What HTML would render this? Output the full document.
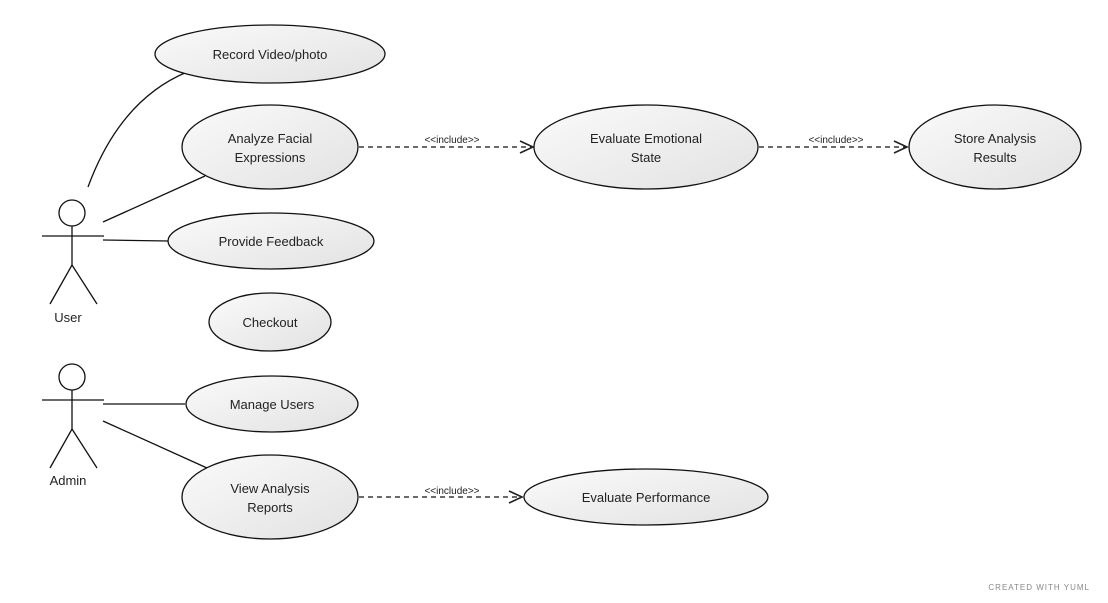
<!DOCTYPE html>
<html><head><style>body{margin:0;background:#fff}svg{display:block}text{font-family:"Liberation Sans",sans-serif;fill:#222}</style></head><body>
<svg width="1108" height="603" viewBox="0 0 1108 603" xmlns="http://www.w3.org/2000/svg">
<defs><linearGradient id="g" x1="0" y1="0" x2="1" y2="1"><stop offset="0" stop-color="#fafafa"/><stop offset="1" stop-color="#e2e2e2"/></linearGradient>
<marker id="a" markerWidth="16" markerHeight="14" refX="14" refY="7" orient="auto" markerUnits="userSpaceOnUse"><path d="M1,1 L14,7 L1,13" fill="none" stroke="#222" stroke-width="1.6"/></marker></defs>
<g stroke="#111" stroke-width="1.3" fill="none">
<path d="M88,187 Q120,100 187,72"/>
<line x1="103" y1="222" x2="205" y2="176"/>
<line x1="103" y1="240" x2="168" y2="241"/>
<line x1="103" y1="404" x2="185" y2="404"/>
<line x1="103" y1="421" x2="207" y2="468"/>
<g stroke-dasharray="5,4" marker-end="url(#a)">
<line x1="359" y1="147" x2="533" y2="147"/>
<line x1="759" y1="147" x2="907" y2="147"/>
<line x1="359" y1="497" x2="522" y2="497"/>
</g>
<circle cx="72" cy="213" r="13"/><line x1="42" y1="236" x2="104" y2="236"/><line x1="72" y1="226" x2="72" y2="265"/><path d="M50,304 L72,265 L97,304"/>
<circle cx="72" cy="377" r="13"/><line x1="42" y1="400" x2="104" y2="400"/><line x1="72" y1="390" x2="72" y2="429"/><path d="M50,468 L72,429 L97,468"/>
</g>
<g stroke="#111" stroke-width="1.3" fill="url(#g)">
<ellipse cx="270" cy="54" rx="115" ry="29"/>
<ellipse cx="270" cy="147" rx="88" ry="42"/>
<ellipse cx="646" cy="147" rx="112" ry="42"/>
<ellipse cx="995" cy="147" rx="86" ry="42"/>
<ellipse cx="271" cy="241" rx="103" ry="28"/>
<ellipse cx="270" cy="322" rx="61" ry="29"/>
<ellipse cx="272" cy="404" rx="86" ry="28"/>
<ellipse cx="270" cy="497" rx="88" ry="42"/>
<ellipse cx="646" cy="497" rx="122" ry="28"/>
</g>
<g font-size="13" text-anchor="middle">
<text x="270" y="59">Record Video/photo</text>
<text x="270" y="143">Analyze Facial</text><text x="270" y="162">Expressions</text>
<text x="646" y="143">Evaluate Emotional</text><text x="646" y="162">State</text>
<text x="995" y="143">Store Analysis</text><text x="995" y="162">Results</text>
<text x="271" y="246">Provide Feedback</text>
<text x="270" y="327">Checkout</text>
<text x="272" y="409">Manage Users</text>
<text x="270" y="493">View Analysis</text><text x="270" y="512">Reports</text>
<text x="646" y="502">Evaluate Performance</text>
<text x="68" y="322">User</text>
<text x="68" y="485">Admin</text>
</g>
<g font-size="10" text-anchor="middle">
<text x="452" y="143">&lt;&lt;include&gt;&gt;</text>
<text x="836" y="143">&lt;&lt;include&gt;&gt;</text>
<text x="452" y="494">&lt;&lt;include&gt;&gt;</text>
</g>
<text x="1090" y="590" font-size="8" text-anchor="end" style="fill:#888;letter-spacing:1px">CREATED WITH YUML</text>
</svg>
</body></html>
